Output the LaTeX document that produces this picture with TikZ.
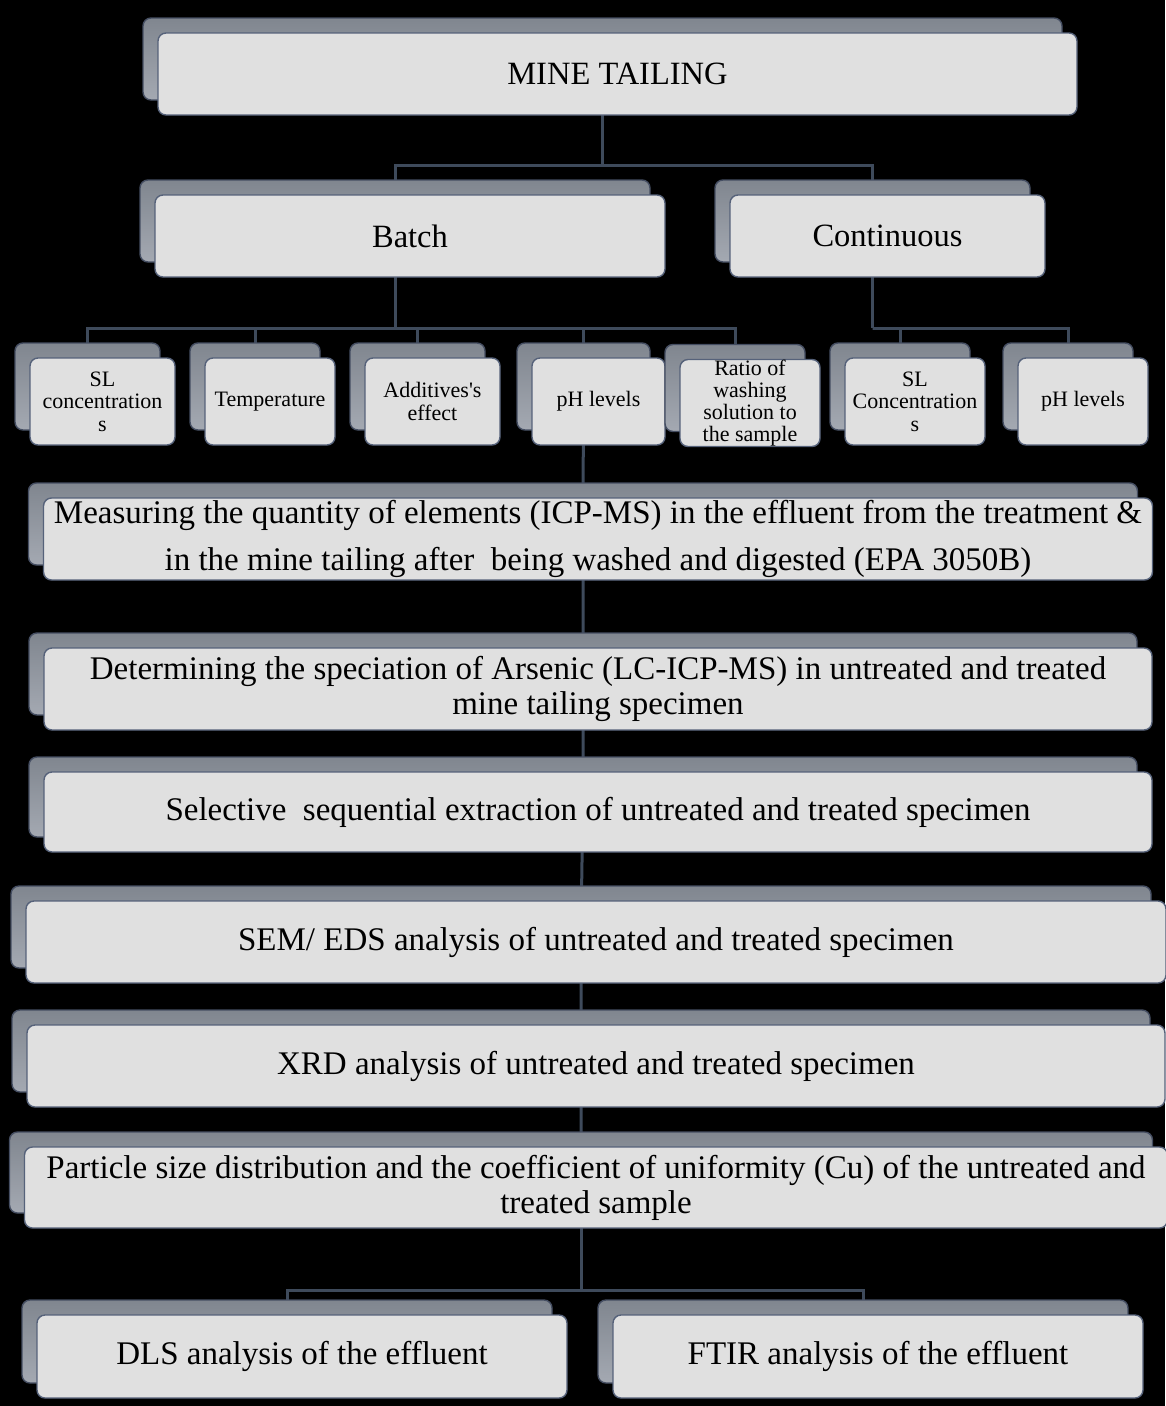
\documentclass[tikz,border=0pt]{standalone}
\usepackage{fontspec}
\setmainfont{Liberation Serif}[Ligatures=TeXOff]
\usetikzlibrary{shadows}

\pgfdeclarelayer{back}
\pgfdeclarelayer{links}
\pgfsetlayers{back,links,main}

\definecolor{boxfill}{HTML}{E0E0E0}
\definecolor{boxedge}{HTML}{56627A}
\definecolor{shadetop}{HTML}{A4A9B2}
\definecolor{shadebot}{HTML}{80868F}
\definecolor{linkcol}{HTML}{3E4A5B}

\tikzset{
  % y runs downwards here, so the shading is flipped
  card/.style={draw=boxedge, line width=1.4pt, fill=boxfill, rounded corners=8pt,
    align=center, inner sep=1pt, minimum height=82pt,
    general shadow={shadow xshift=-15pt, shadow yshift=15pt,
      top color=shadebot, bottom color=shadetop, draw=boxedge!80!black}},
  link/.style={draw=linkcol, line width=3pt},
  headtxt/.style={font=\fontsize{32.5}{35}\selectfont},
  bigtxt/.style={font=\fontsize{33}{35}\selectfont},
  smalltxt/.style={font=\fontsize{22}{22.5}\selectfont, minimum height=87pt},
}

\begin{document}
\begin{tikzpicture}[x=1pt, y=-1pt]
  \path[use as bounding box] (0,0) rectangle (1165,1406);
  \begin{pgfonlayer}{back}
    \fill[black] (0,0) rectangle (1165,1406);
  \end{pgfonlayer}

  % top levels
  \node[card, headtxt, minimum width=919pt] (mine) at (617.5,74) {MINE TAILING};
  \node[card, headtxt, minimum width=510pt] (batch) at (410,236) {Batch};
  \node[card, headtxt, minimum width=315pt] (cont) at (887.5,236) {Continuous};

  % parameters
  \node[card, smalltxt, minimum width=145pt] (sl) at (102.5,401.5) {SL\\concentration\\s};
  \node[card, smalltxt, minimum width=130pt] (temp) at (270,401.5) {Temperature};
  \node[card, smalltxt, minimum width=135pt] (addi) at (432.5,401.5) {Additives's\\effect};
  \node[card, smalltxt, minimum width=133pt] (phb) at (598.5,401.5) {pH levels};
  \node[card, smalltxt, minimum width=140pt, inner ysep=0pt,
    font=\fontsize{22}{22}\selectfont] (ratio) at (750,403) {Ratio of\\washing\\solution to\\the sample};
  \node[card, smalltxt, minimum width=140pt] (slc) at (915,401.5) {SL\\Concentration\\s};
  \node[card, smalltxt, minimum width=130pt] (phc) at (1083,401.5) {pH levels};

  % analyses
  \node[card, font=\fontsize{33}{47}\selectfont, minimum width=1109pt] (meas) at (598,539)
    {Measuring the quantity of elements (ICP-MS) in the effluent from the treatment \&\\
     in the mine tailing after\ \ being washed and digested (EPA 3050B)};
  \node[card, bigtxt, minimum width=1108pt] (det) at (598,689)
    {Determining the speciation of Arsenic (LC-ICP-MS) in untreated and treated\\mine tailing specimen};
  \node[card, bigtxt, minimum width=1108pt, minimum height=80pt] (sel) at (598,812)
    {Selective\ \ sequential extraction of untreated and treated specimen};
  \node[card, bigtxt, minimum width=1140pt] (sem) at (596,942)
    {SEM/ EDS analysis of untreated and treated specimen};
  \node[card, bigtxt, minimum width=1138pt] (xrd) at (596,1066)
    {XRD analysis of untreated and treated specimen};
  \node[card, bigtxt, minimum width=1143pt, minimum height=81pt] (part) at (596,1187.5)
    {Particle size distribution and the coefficient of uniformity (Cu) of the untreated and\\treated sample};
  \node[card, bigtxt, minimum width=530pt, minimum height=83pt] (dls) at (302,1356.5)
    {DLS analysis of the effluent};
  \node[card, bigtxt, minimum width=530pt, minimum height=83pt] (ftir) at (878,1356.5)
    {FTIR analysis of the effluent};

  \foreach \n in {mine,batch,cont,sl,temp,addi,phb,ratio,slc,phc,meas,det,sel,sem,xrd,part,dls,ftir}
    \coordinate (\n-s) at ([shift={(-15,-15)}]\n.center);

  \begin{pgfonlayer}{links}
    \draw[link] (mine-s) -- ++(0,106) coordinate (top);
    \draw[link] (batch-s) |- (top) -| (cont-s);
    \draw[link] (batch-s) -- ++(0,107) coordinate (left);
    \draw[link] (sl-s) |- (left) -| (ratio-s);
    \foreach \n in {temp,addi,phb}
      \draw[link] (\n-s) -- (\n-s |- left);
    \draw[link] (cont-s) -- ++(0,107) coordinate (right);
    \draw[link] (slc-s) |- (right) -| (phc-s);
    \draw[link] (phb-s) -- (meas-s) -- (det-s) -- (sel-s) -- (sem-s) -- (xrd-s) -- (part-s);
    \draw[link] (part-s) -- ++(0,117.5) coordinate (low);
    \draw[link] (dls-s) |- (low) -| (ftir-s);
  \end{pgfonlayer}
\end{tikzpicture}
\end{document}
